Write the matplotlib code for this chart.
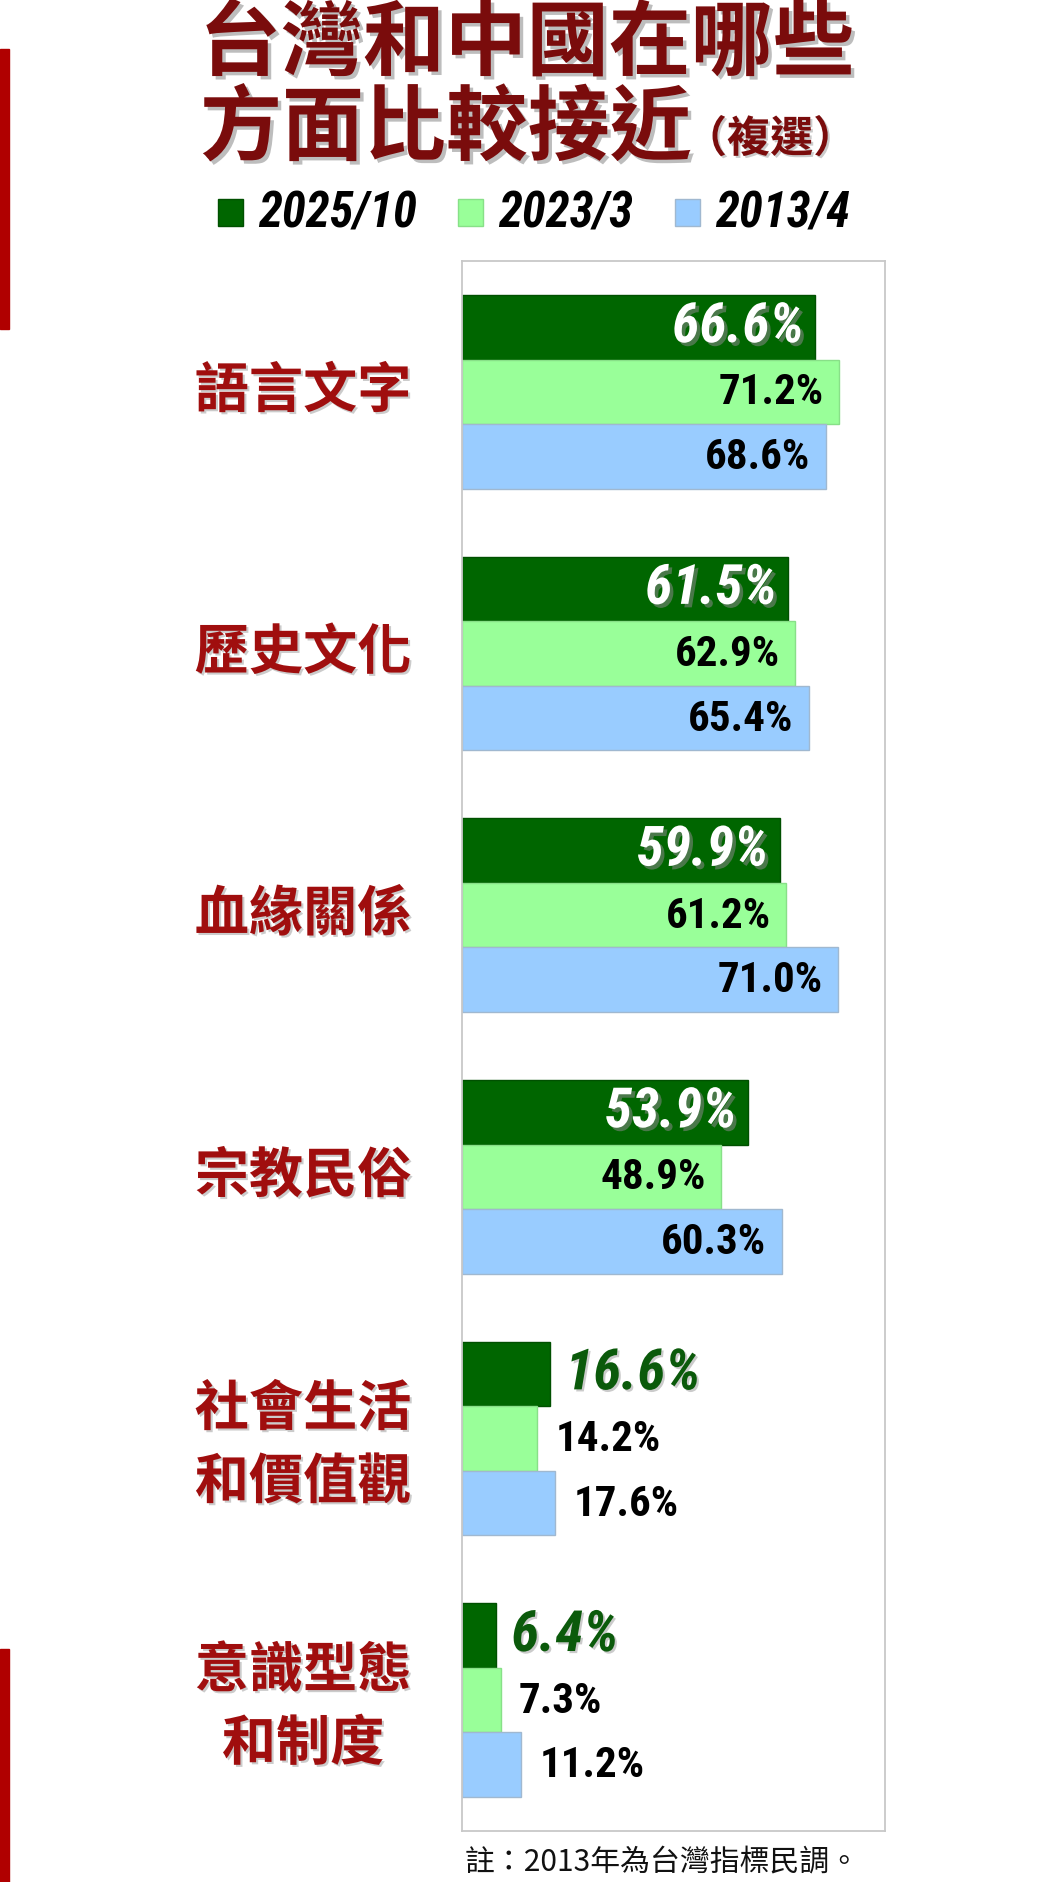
import matplotlib
matplotlib.use('Agg')
from matplotlib import pyplot as plt
from matplotlib import font_manager
from matplotlib import patheffects as pe
from matplotlib.patches import Rectangle
from matplotlib.transforms import blended_transform_factory
from numpy import arange

# 資料
categories = ['語言文字', '歷史文化', '血緣關係', '宗教民俗', '社會生活\n和價值觀', '意識型態\n和制度']
series_names = ['2025/10', '2023/3', '2013/4']
v_2025 = [66.6, 61.5, 59.9, 53.9, 16.6, 6.4]
v_2023 = [71.2, 62.9, 61.2, 48.9, 14.2, 7.3]
v_2013 = [68.6, 65.4, 71.0, 60.3, 17.6, 11.2]

colors = ['#006600', '#99ff99', '#99ccff']
edges = ['#005000', '#88e088', '#a0b8d0']
CJK = ['Noto Sans CJK TC', 'DejaVu Sans']


def pick_narrow():
    # 找一個有靜態粗斜體的窄字型, 找不到就用 Liberation Sans 縮小
    cands = ['Liberation Sans Narrow', 'Roboto Condensed', 'Fira Sans Condensed',
             'IBM Plex Sans Condensed', 'Barlow Semi Condensed']
    fl = font_manager.fontManager.ttflist
    for c in cands:
        bi = [f for f in fl if f.name == c and f.weight in (700, 'bold') and f.style == 'italic'
              and '[' not in f.fname]
        b = [f for f in fl if f.name == c and f.weight in (700, 'bold') and f.style == 'normal'
             and '[' not in f.fname]
        if bi and b:
            return c, 1.0
    return 'Liberation Sans', 0.82


NUM_FONT, K = pick_narrow()

W, H = 1059, 1883
fig = plt.figure(figsize=(W / 100, H / 100), dpi=100)
fig.patch.set_facecolor('white')


def fx(px):
    return px / W


def fy(py):
    return 1 - py / H


shadow_dark = [pe.SimplePatchShadow(offset=(2.5, -2.5), shadow_rgbFace='#888888', alpha=0.55), pe.Normal()]
shadow_light = [pe.SimplePatchShadow(offset=(1.5, -1.5), shadow_rgbFace='#999999', alpha=0.5), pe.Normal()]

# 左側紅色邊條
fig.patches.append(Rectangle((0, fy(330)), fx(9), fy(50) - fy(330), transform=fig.transFigure,
                             color='#b00000', zorder=0))
fig.patches.append(Rectangle((0, fy(1883)), fx(9), fy(1650) - fy(1883), transform=fig.transFigure,
                             color='#b00000', zorder=0))

# 標題
title_c = '#7a0c0c'
fig.text(fx(527), fy(46), '台灣和中國在哪些', ha='center', va='center', fontsize=59,
         fontweight='bold', color=title_c, family=CJK, path_effects=shadow_dark)
fig.text(fx(692), fy(131), '方面比較接近', ha='right', va='center', fontsize=59,
         fontweight='bold', color=title_c, family=CJK, path_effects=shadow_dark)
fig.text(fx(684), fy(140), '（複選）', ha='left', va='center', fontsize=31,
         fontweight='bold', color=title_c, family=CJK, path_effects=shadow_light)

# 圖例
leg_sq = [218, 458, 675]
leg_tx = [258, 498, 715]
for sq, tx, c, e, name in zip(leg_sq, leg_tx, colors, edges, series_names):
    fig.patches.append(Rectangle((fx(sq), fy(227)), fx(25), fy(200) - fy(227), transform=fig.transFigure,
                                 facecolor=c, edgecolor=e, linewidth=1))
    fig.text(fx(tx), fy(214), name, ha='left', va='center', fontsize=35 * K, fontweight='bold',
             fontstyle='italic', family=NUM_FONT, color='black')

# 主圖
ax = fig.add_axes([fx(462), fy(1832), fx(885) - fx(462), fy(262) - fy(1832)])
y = arange(len(categories))
h = 0.247
all_vals = [v_2025, v_2023, v_2013]
for i, (vals, c, e) in enumerate(zip(all_vals, colors, edges)):
    bars = ax.barh(y + (i - 1) * h, vals, height=h, color=c, edgecolor=e, linewidth=1, zorder=2)
    for b, v in zip(bars, vals):
        yc = b.get_y() + b.get_height() / 2
        txt = f'{v:.1f}%'
        if i == 0:
            if v > 30:
                ax.annotate(txt, (v, yc), xytext=(-8, 0), textcoords='offset points',
                            ha='right', va='center', fontsize=40 * K, fontweight='bold',
                            fontstyle='italic', family=NUM_FONT, color='white',
                            path_effects=shadow_dark, zorder=3)
            else:
                ax.annotate(txt, (v, yc), xytext=(11, 0), textcoords='offset points',
                            ha='left', va='center', fontsize=41 * K, fontweight='bold',
                            fontstyle='italic', family=NUM_FONT, color='#0b5a0b',
                            path_effects=shadow_light, zorder=3)
        else:
            if v > 30:
                ax.annotate(txt, (v, yc), xytext=(-11, 0), textcoords='offset points',
                            ha='right', va='center', fontsize=31 * K, fontweight='bold',
                            family=NUM_FONT, color='black', zorder=3)
            else:
                ax.annotate(txt, (v, yc), xytext=(13, 0), textcoords='offset points',
                            ha='left', va='center', fontsize=31 * K, fontweight='bold',
                            family=NUM_FONT, color='black', zorder=3)

ax.set_xlim(0, 79.8)
ax.set_ylim(len(categories) - 0.5, -0.5)
ax.set_xticks([])
ax.set_yticks([])
for s in ax.spines.values():
    s.set_color('#c8c8c8')
    s.set_linewidth(1.3)

# 類別標籤
trans = blended_transform_factory(fig.transFigure, ax.transData)
for yi, cat in zip(y, categories):
    off = 0.03 if '\n' in cat else 0.0
    ax.text(fx(303), yi + off, cat, transform=trans, ha='center', va='center', fontsize=39,
            fontweight='bold', color='#a00e0e', family=CJK, linespacing=1.42,
            path_effects=shadow_light)

# 註
fig.text(fx(465), fy(1862), '註：2013年為台灣指標民調。', ha='left', va='center', fontsize=21.5,
         color='#111111', family=CJK)

fig.savefig('out.png', dpi=100, facecolor='white')
